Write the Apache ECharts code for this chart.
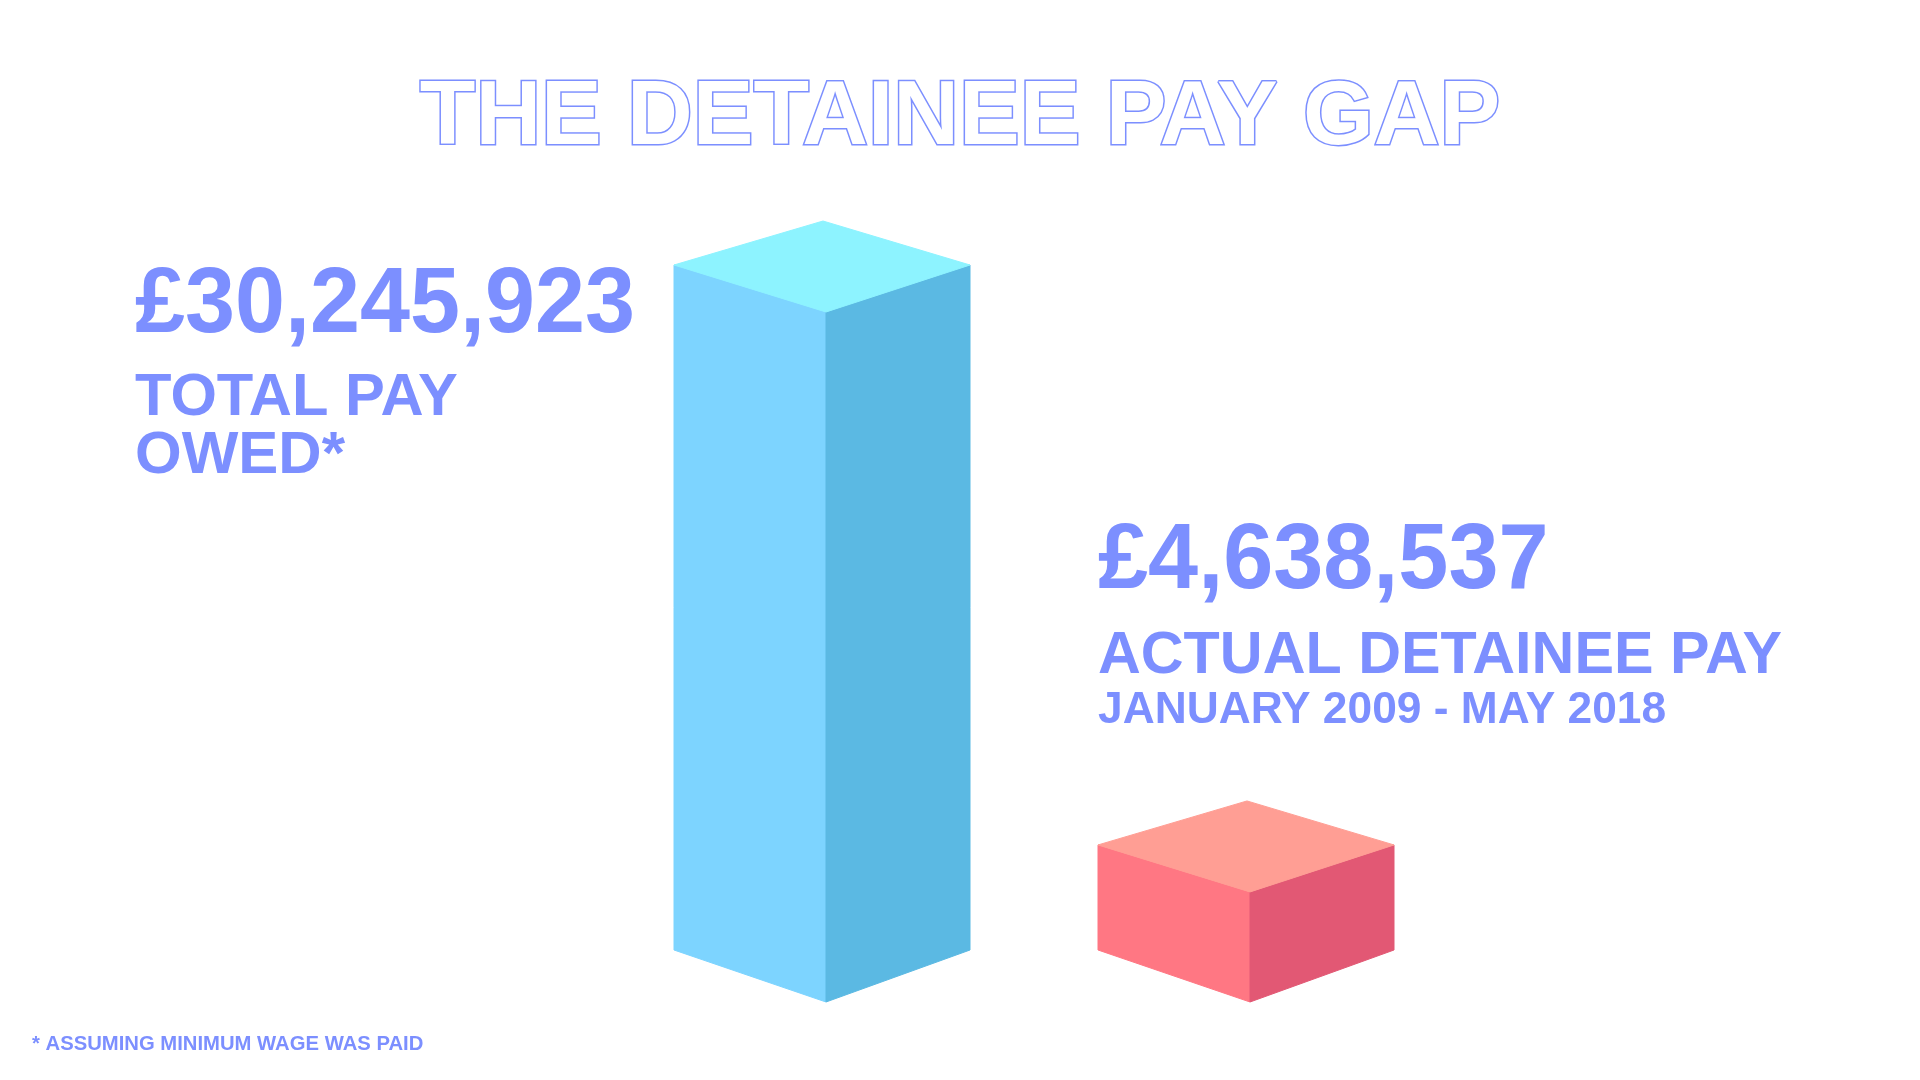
<!DOCTYPE html>
<html>
<head>
<meta charset="utf-8">
<style>
  html, body { margin: 0; padding: 0; background: #ffffff; }
  #chart { width: 1920px; height: 1080px; }
</style>
<script src="https://cdn.jsdelivr.net/npm/echarts@6/dist/echarts.min.js"></script>
</head>
<body>
<div id="chart"></div>
<script>
// ---- data ----
const categories = ['Total pay owed', 'Actual detainee pay'];
const values = [30245923, 4638537];
const titleText = 'THE DETAINEE PAY GAP';
const labelLines = [['TOTAL PAY', 'OWED*'], ['ACTUAL DETAINEE PAY']];
const subLabel = 'JANUARY 2009 - MAY 2018';
const footnote = '* ASSUMING MINIMUM WAGE WAS PAID';

// ---- styles ----
const TEXT = '#7C8FFF';
const FONT = '"Liberation Sans", Arial, Helvetica, sans-serif';
const faces = [
  { left: '#7DD4FF', right: '#5BB9E3', top: '#8DF3FF' },
  { left: '#FF7783', right: '#E25874', top: '#FF9E94' }
];

function fmt(v) { return '£' + v.toLocaleString('en-GB'); }

const chart = echarts.init(document.getElementById('chart'), null, { renderer: 'canvas' });

function txt(x, y, text, size, scaleX) {
  return {
    type: 'text',
    x: x, y: y,
    scaleX: scaleX, scaleY: 1,
    originX: 0, originY: 0,
    style: {
      text: text,
      x: 0, y: 0,
      fill: TEXT,
      font: 'bold ' + size + 'px ' + FONT,
      align: 'left',
      verticalAlign: 'top'
    },
    z: 10
  };
}

const option = {
  backgroundColor: '#ffffff',
  animation: false,
  grid: { left: 614, right: 458, top: 265, bottom: 130 },
  xAxis: { type: 'category', data: categories, show: false },
  yAxis: { type: 'value', min: 0, max: Math.max.apply(null, values), show: false },
  series: [{
    type: 'custom',
    data: values.map((v, i) => [i, v]),
    encode: { x: 0, y: 1 },
    renderItem: function (params, api) {
      const top = api.coord([api.value(0), api.value(1)]);
      const bot = api.coord([api.value(0), 0]);
      const fx = top[0], ty = top[1], by = bot[1];
      const L = 152, R = 144, dF = 47, dB = 44, dFB = 52;
      const f = faces[params.dataIndex];
      const poly = (pts, c) => ({
        type: 'polygon',
        shape: { points: pts },
        style: { fill: c, stroke: c, lineWidth: 1, lineJoin: 'round' }
      });
      return {
        type: 'group',
        children: [
          poly([[fx - L, ty], [fx, ty + dF], [fx, by + dFB], [fx - L, by]], f.left),
          poly([[fx, ty + dF], [fx + R, ty], [fx + R, by], [fx, by + dFB]], f.right),
          poly([[fx - L, ty], [fx - 3, ty - dB], [fx + R, ty], [fx, ty + dF]], f.top)
        ]
      };
    }
  }],
  graphic: [
    {
      type: 'text',
      x: 960, y: 73,
      scaleX: 1.0, scaleY: 1,
      originX: 0, originY: 0,
      style: {
        text: titleText,
        x: 0, y: 0,
        fill: '#ffffff',
        stroke: TEXT,
        lineWidth: 3,
        font: 'bold 91px ' + FONT,
        align: 'center',
        verticalAlign: 'top'
      },
      z: 10
    },
    txt(135, 260, fmt(values[0]), 93, 0.967),
    txt(135, 368, labelLines[0][0], 60, 0.995),
    txt(135, 426, labelLines[0][1], 60, 1.0),
    txt(1098, 516, fmt(values[1]), 93, 0.968),
    txt(1098, 626, labelLines[1][0], 60, 0.988),
    txt(1098, 689, subLabel, 44, 1.007),
    txt(32, 1034, footnote, 20, 1.013)
  ]
};

chart.setOption(option);
</script>
</body>
</html>
